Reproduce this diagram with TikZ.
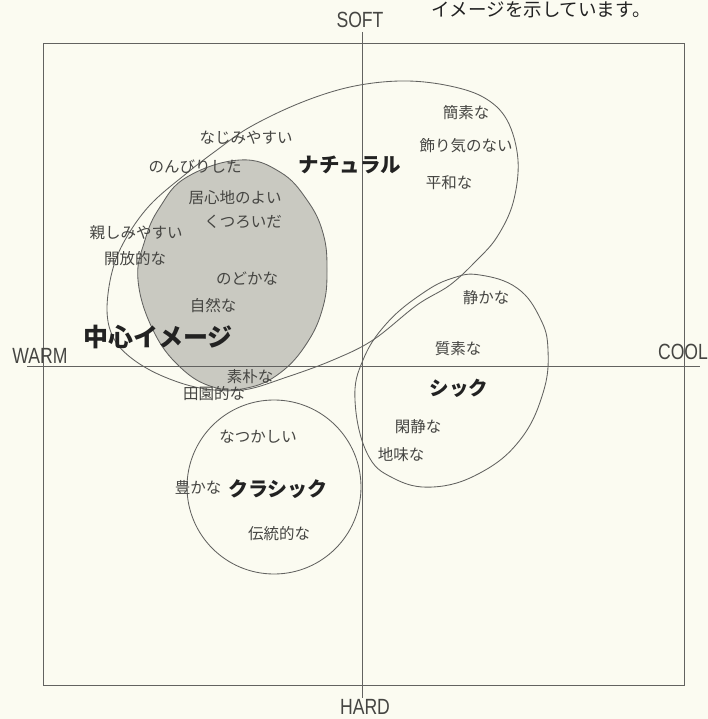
\documentclass[tikz,border=0pt]{standalone}
\usepackage{fontspec}
\newfontfamily\jp{Noto Sans CJK JP}
\newfontfamily\lat[FakeStretch=0.8]{Liberation Sans}
\definecolor{bg}{HTML}{FBFBF1}
\definecolor{ln}{HTML}{626260}
\definecolor{tx}{HTML}{454542}
\definecolor{centergray}{HTML}{C9C9C1}
\definecolor{dark}{HTML}{222222}
\begin{document}
\begin{tikzpicture}[x=1pt,y=-1pt,
  word/.style={font=\jp\fontsize{15.5}{18}\selectfont, text=tx, inner sep=0pt},
  big/.style={font=\jp\bfseries\fontsize{20.5}{24}\selectfont, text=dark, inner sep=0pt},
  axlabel/.style={font=\lat\fontsize{22}{24}\selectfont, text=tx, inner sep=0pt},
  curve/.style={draw=ln, line width=0.85pt},
  axisline/.style={draw=ln, line width=0.9pt}]
\useasboundingbox (0,0) rectangle (708,719);
\fill[bg] (0,0) rectangle (708,719);

% frame
\draw[axisline] (43,43) rectangle (684,685);

% central shaded image
\fill[centergray] plot[smooth cycle, tension=0.7] coordinates {
  (240,160) (280,172) (307,200) (323,233) (327,270) (323,307) (307,343)
  (280,373) (247,388) (213,387) (180,367) (153,330) (138,280) (145,240)
  (160,207) (187,177)};

% axes
\coordinate (soft) at (362.5,32);
\coordinate (hard) at (362.5,698);
\coordinate (warm) at (27,366);
\coordinate (cool) at (700,366);
\draw[axisline] (soft) -- (hard);
\draw[axisline] (warm) -- (cool);

% outline of shaded image
\draw[curve] plot[smooth cycle, tension=0.7] coordinates {
  (240,160) (280,172) (307,200) (323,233) (327,270) (323,307) (307,343)
  (280,373) (247,388) (213,387) (180,367) (153,330) (138,280) (145,240)
  (160,207) (187,177)};

% natural region
\draw[curve] plot[smooth cycle, tension=0.6] coordinates {
  (107,310) (112,272) (125,240) (150,205) (187,173) (217,150) (250,127)
  (300,103) (350,87) (400,81) (445,85) (483,97) (507,120) (518,160)
  (513,203) (497,237) (477,260) (450,285) (417,305) (373,340) (333,360)
  (287,377) (243,390) (200,388) (160,375) (130,357) (113,337)};

% chic region
\draw[curve] plot[smooth cycle, tension=0.7] coordinates {
  (480,275) (517,288) (540,318) (548,350) (543,393) (520,440) (480,473)
  (433,487) (393,478) (367,453) (355,400) (363,360) (387,323) (423,293)
  (453,278)};

% classic region
\draw[curve] (274,487) circle[radius=87];

% axis labels
\node[axlabel] (lsoft) at (360,20) {SOFT};
\node[axlabel] (lhard) at (365,707) {HARD};
\node[axlabel] (lwarm) at (40,356) {WARM};
\node[axlabel] (lcool) at (683,352) {COOL};

% top caption
\node[inner sep=0pt, font=\jp\fontsize{18.5}{22}\selectfont, text=dark] (cap) at (541,10) {イメージを示しています。};

% group labels
\node[big] (natural) at (350,165) {ナチュラル};
\node[big, font=\jp\bfseries\fontsize{25}{28}\selectfont] (center) at (158,337) {中心イメージ};
\node[big, font=\jp\bfseries\fontsize{19.5}{24}\selectfont] (chic) at (459,388) {シック};
\node[big, font=\jp\bfseries\fontsize{20}{24}\selectfont] (classic) at (278,489) {クラシック};

% words
\node[word] (w1) at (246,138) {なじみやすい};
\node[word] (w2) at (195,167) {のんびりした};
\node[word] (w3) at (466,113) {簡素な};
\node[word] (w4) at (466,146) {飾り気のない};
\node[word] (w5) at (449,183) {平和な};
\node[word] (w6) at (235,198) {居心地のよい};
\node[word] (w7) at (243,222) {くつろいだ};
\node[word] (w8) at (136,233) {親しみやすい};
\node[word] (w9) at (135,259) {開放的な};
\node[word] (w10) at (247,279) {のどかな};
\node[word] (w11) at (213,306) {自然な};
\node[word] (w12) at (250,377) {素朴な};
\node[word] (w13) at (214,394) {田園的な};
\node[word] (w14) at (486,298) {静かな};
\node[word] (w15) at (458,349) {質素な};
\node[word] (w16) at (418,427) {閑静な};
\node[word] (w17) at (401,455) {地味な};
\node[word] (w18) at (258,437) {なつかしい};
\node[word] (w19) at (198,487) {豊かな};
\node[word] (w20) at (279,534) {伝統的な};
\end{tikzpicture}
\end{document}
